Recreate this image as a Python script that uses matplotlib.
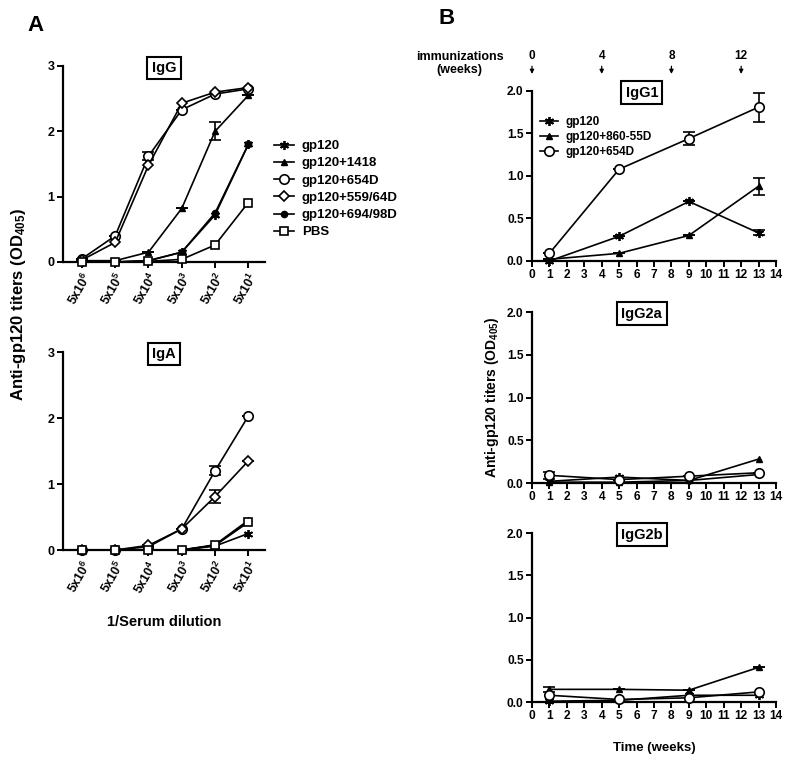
import numpy as np
import matplotlib
matplotlib.use('Agg')
import matplotlib.pyplot as plt

plt.rcParams['font.family'] = ['Liberation Sans', 'DejaVu Sans']
plt.rcParams['font.weight'] = 'bold'
plt.rcParams['mathtext.default'] = 'regular'

# panel A data: 1/serum dilution
dilutions = ['$5x10^{6}$', '$5x10^{5}$', '$5x10^{4}$', '$5x10^{3}$', '$5x10^{2}$', '$5x10^{1}$']
groups_a = ['gp120', 'gp120+1418', 'gp120+654D', 'gp120+559/64D', 'gp120+694/98D', 'PBS']
igg = {
    'gp120': [0.0, 0.0, 0.02, 0.15, 0.72, 1.80],
    'gp120+1418': [0.02, 0.02, 0.15, 0.82, 2.00, 2.55],
    'gp120+654D': [0.05, 0.40, 1.62, 2.33, 2.57, 2.65],
    'gp120+559/64D': [0.03, 0.30, 1.48, 2.43, 2.60, 2.67],
    'gp120+694/98D': [0.0, 0.0, 0.02, 0.15, 0.75, 1.80],
    'PBS': [0.0, 0.0, 0.01, 0.04, 0.26, 0.91],
}
igg_err = {
    'gp120+1418': [0, 0, 0, 0, 0.14, 0],
    'gp120+654D': [0, 0, 0.06, 0, 0, 0],
}
iga = {
    'gp120': [0.0, 0.0, 0.0, 0.0, 0.06, 0.25],
    'gp120+1418': [0.0, 0.0, 0.0, 0.0, 0.08, 0.45],
    'gp120+654D': [0.0, 0.0, 0.05, 0.32, 1.20, 2.03],
    'gp120+559/64D': [0.0, 0.0, 0.07, 0.32, 0.81, 1.35],
    'gp120+694/98D': [0.0, 0.0, 0.0, 0.0, 0.07, 0.44],
    'PBS': [0.0, 0.0, 0.0, 0.0, 0.07, 0.42],
}
iga_err = {
    'gp120+654D': [0, 0, 0, 0, 0.07, 0],
    'gp120+559/64D': [0, 0, 0, 0, 0.10, 0],
}

# panel B data: weeks
weeks = [1, 5, 9, 13]
groups_b = ['gp120', 'gp120+860-55D', 'gp120+654D']
igg1 = {'gp120': [0.0, 0.29, 0.70, 0.33],
        'gp120+860-55D': [0.02, 0.09, 0.30, 0.88],
        'gp120+654D': [0.09, 1.08, 1.44, 1.81]}
igg1_err = {'gp120': [0, 0, 0, 0.03],
            'gp120+860-55D': [0, 0, 0, 0.10],
            'gp120+654D': [0, 0, 0.08, 0.17]}
igg2a = {'gp120': [0.02, 0.07, 0.03, 0.10],
         'gp120+860-55D': [0.01, 0.01, 0.03, 0.28],
         'gp120+654D': [0.09, 0.04, 0.08, 0.12]}
igg2a_err = {'gp120+654D': [0.04, 0, 0, 0]}
igg2b = {'gp120': [0.01, 0.02, 0.08, 0.08],
         'gp120+860-55D': [0.15, 0.15, 0.14, 0.41],
         'gp120+654D': [0.08, 0.03, 0.05, 0.12]}
igg2b_err = {'gp120+860-55D': [0.03, 0, 0, 0]}
immun_weeks = [0, 4, 8, 12]

styles = {
    'gp120': dict(marker=(6, 2, 0), ms=6.5, mfc='black', mew=1.3),
    'gp120+1418': dict(marker='^', ms=5, mfc='black'),
    'gp120+860-55D': dict(marker='^', ms=5, mfc='black'),
    'gp120+654D': dict(marker='o', ms=6.8, mfc='white', mew=1.2),
    'gp120+559/64D': dict(marker='D', ms=5.6, mfc='white', mew=1.2),
    'gp120+694/98D': dict(marker='o', ms=4.5, mfc='black'),
    'PBS': dict(marker='s', ms=6.3, mfc='white', mew=1.2),
}

fig = plt.figure(figsize=(7.9, 7.62), dpi=100)


def style_axes(ax, size):
    for s in ['top', 'right']:
        ax.spines[s].set_visible(False)
    for s in ['left', 'bottom']:
        ax.spines[s].set_linewidth(1.6)
    ax.tick_params(width=1.4, length=4, labelsize=size, pad=2)
    for lab in ax.get_yticklabels() + ax.get_xticklabels():
        lab.set_fontweight('bold')


def box_title(ax, txt, x):
    ax.text(x, 0.99, txt, transform=ax.transAxes, ha='center', va='center',
            fontsize=10.5, fontweight='bold',
            bbox=dict(boxstyle='square,pad=0.3', fc='white', ec='black', lw=1.5))


def draw_series(ax, x, y, e, g):
    if e is not None:
        ax.errorbar(x, y, yerr=e, fmt='none', ecolor='black', elinewidth=1.2,
                    capsize=4, capthick=1.2, clip_on=False, zorder=2)
    ax.plot(x, y, color='black', lw=1.2, mec='black', label=g, clip_on=False,
            zorder=3, **styles[g])


def plot_a(ax, data, err, title):
    x = np.arange(len(dilutions))
    for g in groups_a:
        draw_series(ax, x, data[g], err.get(g), g)
    ax.set_xlim(-0.57, 5.5)
    ax.set_ylim(0, 3)
    ax.set_yticks([0, 1, 2, 3])
    ax.set_xticks(x)
    ax.set_xticklabels(dilutions, rotation=60, ha='right', rotation_mode='anchor')
    style_axes(ax, 9)
    box_title(ax, title, 0.5)


def plot_b(ax, data, err, title):
    for g in groups_b:
        draw_series(ax, weeks, data[g], err.get(g), g)
    ax.set_xlim(0, 14)
    ax.set_ylim(0, 2)
    ax.set_xticks(range(15))
    ax.set_yticks([0, 0.5, 1.0, 1.5, 2.0])
    ax.set_yticklabels(['0.0', '0.5', '1.0', '1.5', '2.0'])
    style_axes(ax, 8.6)
    box_title(ax, title, 0.45)


ax1 = fig.add_axes([0.0797, 0.6562, 0.2557, 0.2572])
plot_a(ax1, igg, igg_err, 'IgG')
ax1.legend(loc='upper left', bbox_to_anchor=(1.0, 0.67), frameon=False,
           fontsize=9.5, handlelength=1.5, handletextpad=0.6,
           labelspacing=0.38, borderaxespad=0.3)

ax2 = fig.add_axes([0.0797, 0.2782, 0.2557, 0.2598])
plot_a(ax2, iga, iga_err, 'IgA')
ax2.set_xlabel('1/Serum dilution', fontsize=10.5, fontweight='bold', labelpad=14)

fig.text(0.024, 0.60, 'Anti-gp120 titers (OD$_{405}$)', rotation=90,
         ha='center', va='center', fontsize=12, fontweight='bold')

b1 = fig.add_axes([0.6734, 0.6575, 0.3089, 0.2231])
plot_b(b1, igg1, igg1_err, 'IgG1')
b1.legend(loc='upper left', bbox_to_anchor=(0.0, 0.9), frameon=False,
          fontsize=8.5, handlelength=1.5, handletextpad=0.6,
          labelspacing=0.25, borderaxespad=0.3)
for w in immun_weeks:
    b1.annotate(str(w), xy=(w, 2.2), xytext=(w, 2.34), xycoords='data',
                textcoords='data', ha='center', va='bottom', fontsize=8.5,
                fontweight='bold', annotation_clip=False,
                arrowprops=dict(arrowstyle='-|>', color='black', lw=0.9,
                                mutation_scale=6, shrinkA=1, shrinkB=0))
fig.text(0.582, 0.917, 'immunizations\n(weeks)', ha='center', va='center',
         fontsize=9, fontweight='bold', linespacing=1.1)

b2 = fig.add_axes([0.6734, 0.3661, 0.3089, 0.2244])
plot_b(b2, igg2a, igg2a_err, 'IgG2a')
b2.set_ylabel('Anti-gp120 titers (OD$_{405}$)', fontsize=10, fontweight='bold',
              labelpad=4)

b3 = fig.add_axes([0.6734, 0.0787, 0.3089, 0.2218])
plot_b(b3, igg2b, igg2b_err, 'IgG2b')
b3.set_xlabel('Time (weeks)', fontsize=9.5, fontweight='bold', labelpad=14)

fig.text(0.045, 0.967, 'A', fontsize=16, fontweight='bold', ha='center', va='center')
fig.text(0.565, 0.976, 'B', fontsize=16, fontweight='bold', ha='center', va='center')

fig.savefig('out.png', dpi=100)
